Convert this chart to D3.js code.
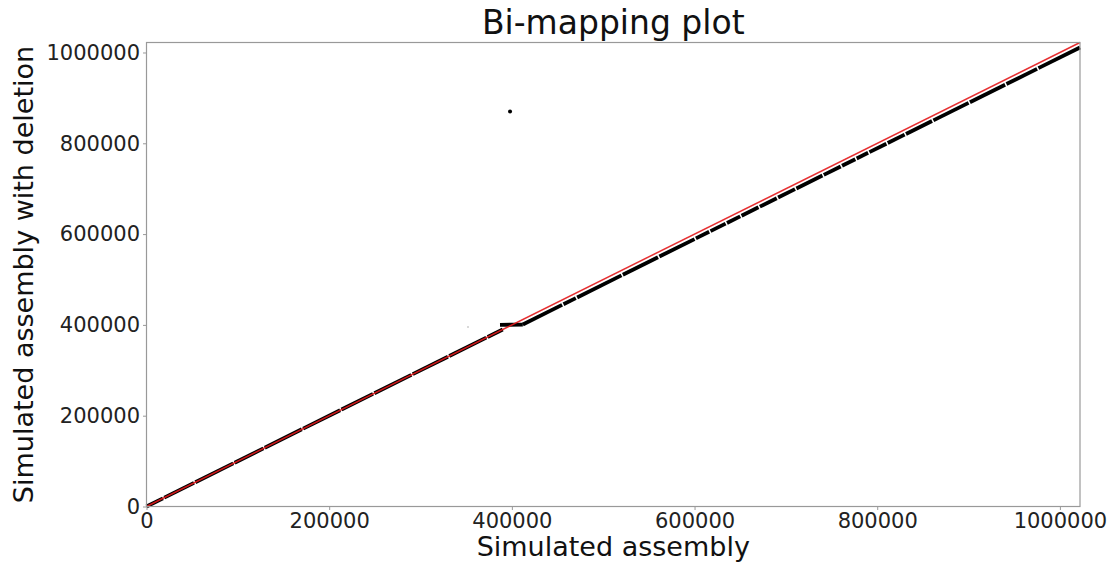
<!DOCTYPE html>
<html>
<head>
<meta charset="utf-8">
<script src="https://cdn.jsdelivr.net/npm/d3@7"></script>
<style>
  body { margin: 0; background: #fff; }
  svg { font-family: "DejaVu Sans", sans-serif; }
</style>
</head>
<body>
<div id="chart"></div>
<script>
// axis extent (genome length)
var genomeLength = 1022000;

var xTicks = [0, 200000, 400000, 600000, 800000, 1000000];
var yTicks = [0, 200000, 400000, 600000, 800000, 1000000];

// alignment blocks: simulated assembly (x) vs assembly with deletion (y)
var blockXStart = [0, 19500, 53500, 96500, 129500, 171500, 213500, 249500, 291500, 331500, 373500,
                   387000,
                   412000, 456500, 471500, 521500, 561500, 601500, 617500, 635500, 651500, 671500, 691500,
                   711500, 741500, 761500, 777500, 791500, 811500, 831500, 861500, 901500, 941500, 976500];
var blockXEnd   = [18000, 52000, 95000, 128000, 170000, 212000, 248000, 290000, 330000, 372000, 390000,
                   412000,
                   455000, 470000, 520000, 560000, 600000, 616000, 634000, 650000, 670000, 690000, 710000,
                   740000, 760000, 776000, 790000, 810000, 830000, 860000, 900000, 940000, 975000, 1022000];
var blockYStart = [0, 19500, 53500, 96500, 129500, 171500, 213500, 249500, 291500, 331500, 373500,
                   400000,
                   401000, 445500, 460500, 510500, 550500, 590500, 606500, 624500, 640500, 660500, 680500,
                   700500, 730500, 750500, 766500, 780500, 800500, 820500, 850500, 890500, 930500, 965500];
var blockYEnd   = [18000, 52000, 95000, 128000, 170000, 212000, 248000, 290000, 330000, 372000, 390000,
                   400800,
                   444000, 459000, 509000, 549000, 589000, 605000, 623000, 639000, 659000, 679000, 699000,
                   729000, 749000, 765000, 779000, 799000, 819000, 849000, 889000, 929000, 964000, 1011000];

// stray hits
var strayX = [398000];
var strayY = [870000];
var faintX = [352000];
var faintY = [395500];

var W = 1111, H = 563;
var margin = {top: 42.5, right: 31, bottom: 56.5, left: 146.5};
var width = W - margin.left - margin.right,
    height = H - margin.top - margin.bottom;

var svg = d3.select("#chart").append("svg")
    .attr("width", W)
    .attr("height", H);

var g = svg.append("g")
    .attr("transform", "translate(" + margin.left + "," + margin.top + ")");

var x = d3.scaleLinear().domain([0, genomeLength]).range([0, width]);
var y = d3.scaleLinear().domain([0, genomeLength]).range([height, 0]);

// alignment blocks
var blocks = blockXStart.map(function(d, i) {
    return {x0: d, x1: blockXEnd[i], y0: blockYStart[i], y1: blockYEnd[i]};
});

g.selectAll(".block")
  .data(blocks)
  .enter().append("line")
    .attr("class", "block")
    .attr("x1", function(d) { return x(d.x0); })
    .attr("x2", function(d) { return x(d.x1); })
    .attr("y1", function(d) { return y(d.y0); })
    .attr("y2", function(d) { return y(d.y1); })
    .attr("stroke", "#000")
    .attr("stroke-width", 3.8)
    .attr("stroke-linecap", "butt");

g.selectAll(".stray")
  .data(strayX)
  .enter().append("circle")
    .attr("cx", function(d) { return x(d); })
    .attr("cy", function(d, i) { return y(strayY[i]); })
    .attr("r", 2)
    .attr("fill", "#000");

g.selectAll(".faint")
  .data(faintX)
  .enter().append("circle")
    .attr("cx", function(d) { return x(d); })
    .attr("cy", function(d, i) { return y(faintY[i]); })
    .attr("r", 1)
    .attr("fill", "#ccc");

// diagonal y = x
g.append("line")
    .attr("x1", x(0)).attr("y1", y(0))
    .attr("x2", x(genomeLength)).attr("y2", y(genomeLength))
    .attr("stroke", "#e31a1c")
    .attr("stroke-opacity", 0.9)
    .attr("stroke-width", 1.5);

// axes
var xAxis = g.append("g")
    .attr("transform", "translate(0," + height + ")")
    .call(d3.axisBottom(x).tickValues(xTicks).tickFormat(d3.format("d")).tickSize(3.5).tickPadding(3));
var yAxis = g.append("g")
    .call(d3.axisLeft(y).tickValues(yTicks).tickFormat(d3.format("d")).tickSize(3.5).tickPadding(3));

[xAxis, yAxis].forEach(function(a) {
    a.select(".domain").remove();
    a.selectAll("line").attr("stroke", "#999");
    a.selectAll("text")
      .attr("font-size", "21px")
      .attr("font-family", "DejaVu Sans")
      .attr("fill", "#222");
});

// frame
g.append("rect")
    .attr("width", width)
    .attr("height", height)
    .attr("fill", "none")
    .attr("stroke", "#999")
    .attr("stroke-width", 1.2);

// labels
svg.append("text")
    .attr("x", margin.left + width / 2)
    .attr("y", 34)
    .attr("text-anchor", "middle")
    .attr("font-size", "33px")
    .attr("fill", "#111")
    .text("Bi-mapping plot");

svg.append("text")
    .attr("x", margin.left + width / 2)
    .attr("y", 556)
    .attr("text-anchor", "middle")
    .attr("font-size", "27px")
    .attr("fill", "#111")
    .text("Simulated assembly");

svg.append("text")
    .attr("transform", "translate(33," + (margin.top + height / 2) + ") rotate(-90)")
    .attr("text-anchor", "middle")
    .attr("font-size", "27px")
    .attr("fill", "#111")
    .text("Simulated assembly with deletion");
</script>
</body>
</html>
